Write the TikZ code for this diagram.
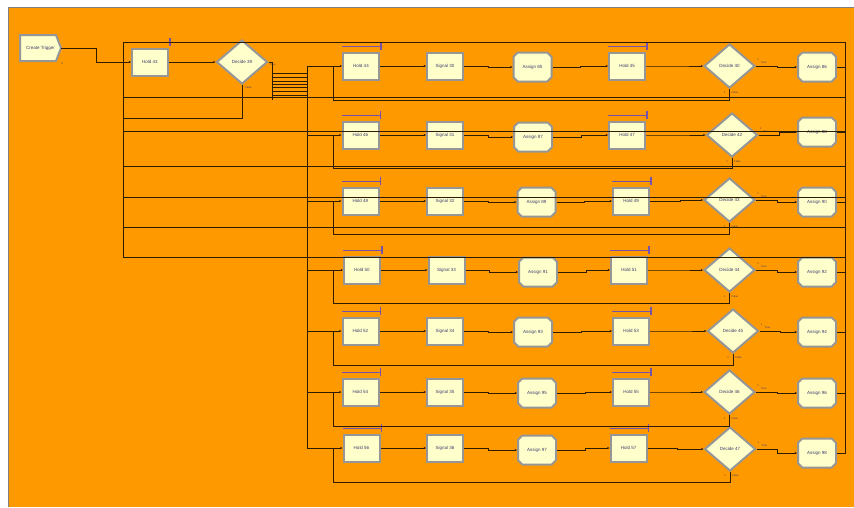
\documentclass[tikz,border=0pt]{standalone}
\usepackage{fontspec}
\setmainfont{Liberation Sans}
\usetikzlibrary{shapes.geometric,shapes.misc,arrows.meta,calc}
\definecolor{bgor}{RGB}{255,153,0}
\definecolor{boxfill}{RGB}{255,255,204}
\definecolor{boxline}{RGB}{150,150,150}
\definecolor{txt}{RGB}{60,60,110}
\definecolor{wire}{RGB}{45,28,0}
\definecolor{qbar}{RGB}{118,82,170}
\tikzset{
  mod/.style={fill=boxfill, draw=boxline, line width=2pt, inner sep=0pt,
    font=\fontsize{4.5}{5}\selectfont, text=txt},
  holdbox/.style={mod, rectangle, minimum width=36pt, minimum height=27pt},
  asgbox/.style={mod, chamfered rectangle, chamfered rectangle xsep=2.2pt,
    chamfered rectangle ysep=2.2pt, minimum width=38pt, minimum height=29pt},
  decbox/.style={mod, diamond, minimum width=51pt, minimum height=44pt},
  wire/.style={draw=wire, line width=0.8pt},
  arr/.style={wire, -{Stealth[length=2.4pt,width=2.2pt]}},
  qline/.style={draw=qbar, line width=1.2pt},
  tiny/.style={font=\fontsize{2.6}{3}\selectfont, text=txt, inner sep=0pt},
}
\begin{document}
\begin{tikzpicture}[x=1pt,y=-1pt]
\useasboundingbox (0,0) rectangle (854,507);
\fill[white] (0,0) rectangle (854,507);
\fill[bgor] (8,7) rectangle (854,507);
\draw[gray, line width=1pt] (8,507) -- (8,7) -- (854,7);

% ---------- named bus coordinates ----------
\coordinate (lT) at (123,42);
\coordinate (lB) at (123,257);
\coordinate (rT) at (845,42);
\coordinate (rB) at (845,454);
\coordinate (bA) at (272,62);
\coordinate (bB) at (272,100);
\coordinate (mT) at (307,66);
\coordinate (mB) at (307,448);

% ---------- first modules ----------
\fill[boxfill, draw=boxline, line width=2pt] (20,35) -- (56,35) -- (61,48) -- (56,61) -- (20,61) -- cycle;
\node[font=\fontsize{4.5}{5}\selectfont, text=txt, inner sep=0pt, minimum width=41pt, minimum height=26pt] (ct) at (40.5,48) {Create Trigger};
\node[tiny] (ct0) at (62,64) {0};
\node[holdbox] (h43) at (150,62) {Hold 43};
\node[decbox] (d39) at (242,62) {Decide 39};
\node[tiny, anchor=west] (d39t) at (270,65) {True};
\node[tiny, anchor=west] (d39f) at (245,88) {False};
\draw[qline] ([yshift=5pt]h43.north west) -- ([yshift=5pt,xshift=1pt]h43.north east);
\draw[qline] ([yshift=10pt,xshift=1pt]h43.north east) -- ([yshift=2pt,xshift=1pt]h43.north east);

% ---------- rows ----------
\foreach \r/\yc/\na/\nb/\nc/\nd/\ne/\nf/\xa/\xb/\xc/\yca/\xd/\xe/\yde/\yf/\lp in {
1/66/44/30/85/45/40/86/361/445/532.5/67/627/729.5/66/67/100,
2/135/46/31/87/47/42/88/360.5/445/533/137/627/732/135/132/168,
3/201/48/32/89/49/43/90/360.5/445/536.5/202/631/729.5/200/202/234,
4/270/50/33/91/51/44/92/362/446.5/538/272/629/729.5/270/272/303,
5/331/52/34/93/53/45/94/360.5/445/533/332/631/733/331/332/365,
6/392/54/35/95/55/46/96/360.5/445/537/393/631/729.5/392/393/426,
7/448/56/36/97/57/47/98/361.5/445/537/450/628.5/730/449/453/482}{
  \node[holdbox] (hA\r) at (\xa,\yc) {Hold \na};
  \node[holdbox] (sg\r) at (\xb,\yc) {Signal \nb};
  \node[asgbox] (aA\r) at (\xc,\yca) {Assign \nc};
  \node[holdbox] (hB\r) at (\xd,\yc) {Hold \nd};
  \node[decbox] (dc\r) at (\xe,\yde) {Decide \ne};
  \node[asgbox] (aB\r) at (817,\yf) {Assign \nf};
  \coordinate (lp\r) at (333,\lp);
  % queue bars
  \draw[qline] ([yshift=5pt]hA\r.north west) -- ([yshift=5pt,xshift=1pt]hA\r.north east);
  \draw[qline] ([yshift=10pt,xshift=1pt]hA\r.north east) -- ([yshift=2pt,xshift=1pt]hA\r.north east);
  \draw[qline] ([yshift=5pt]hB\r.north west) -- ([yshift=5pt,xshift=1pt]hB\r.north east);
  \draw[qline] ([yshift=10pt,xshift=1pt]hB\r.north east) -- ([yshift=2pt,xshift=1pt]hB\r.north east);
  % small exit labels
  \node[tiny] (dt\r) at ([xshift=2pt,yshift=6pt]dc\r.east) {1};
  \node[tiny, anchor=west] (dT\r) at ([xshift=5pt,yshift=3pt]dc\r.east) {True};
  \node[tiny] (df\r) at ([xshift=-5pt,yshift=-4pt]dc\r.south) {1};
  \node[tiny, anchor=west] (dF\r) at ([xshift=2pt,yshift=-4pt]dc\r.south) {False};
}

% ---------- connectors ----------
\draw[arr] (ct.east) -- ++(35,0) |- (h43.west);
\draw[arr] (h43.east) -- (d39.west);
\draw[wire] (d39.south) |- (lT |- 0,118);
\draw[wire] (d39.east) -- (bA) -- (bB);
\foreach \y in {73,77,81,84,87,91,95}{\draw[wire] (bA |- 0,\y) -- (mT |- 0,\y);}
\draw[wire] (mT) -- (mB);
\draw[wire] (lB) -- (lT) -- (rT) -- (rB);
\foreach \y in {97,131,166,197,227,257}{\draw[wire] (lT |- 0,\y) -- (rT |- 0,\y);}

\foreach \r in {1,...,7}{
  \draw[arr] (mT |- hA\r.west) -- (hA\r.west);
  \draw[arr] (hA\r.east) -- (sg\r.west);
  \draw[arr] (sg\r.east) -- ++(24,0) |- (aA\r.west);
  \draw[arr] (aA\r.east) -- ++(28,0) |- (hB\r.west);
  \draw[arr] (hB\r.east) -- ++(30,0) |- (dc\r.west);
  \draw[arr] (dc\r.east) -- ++(21,0) |- (aB\r.west);
  \draw[wire] (dc\r.south) |- (lp\r) -- (lp\r |- hA\r.west);
  \draw[wire] (aB\r.east) -- (aB\r.east -| rT);
}
\end{tikzpicture}
\end{document}
